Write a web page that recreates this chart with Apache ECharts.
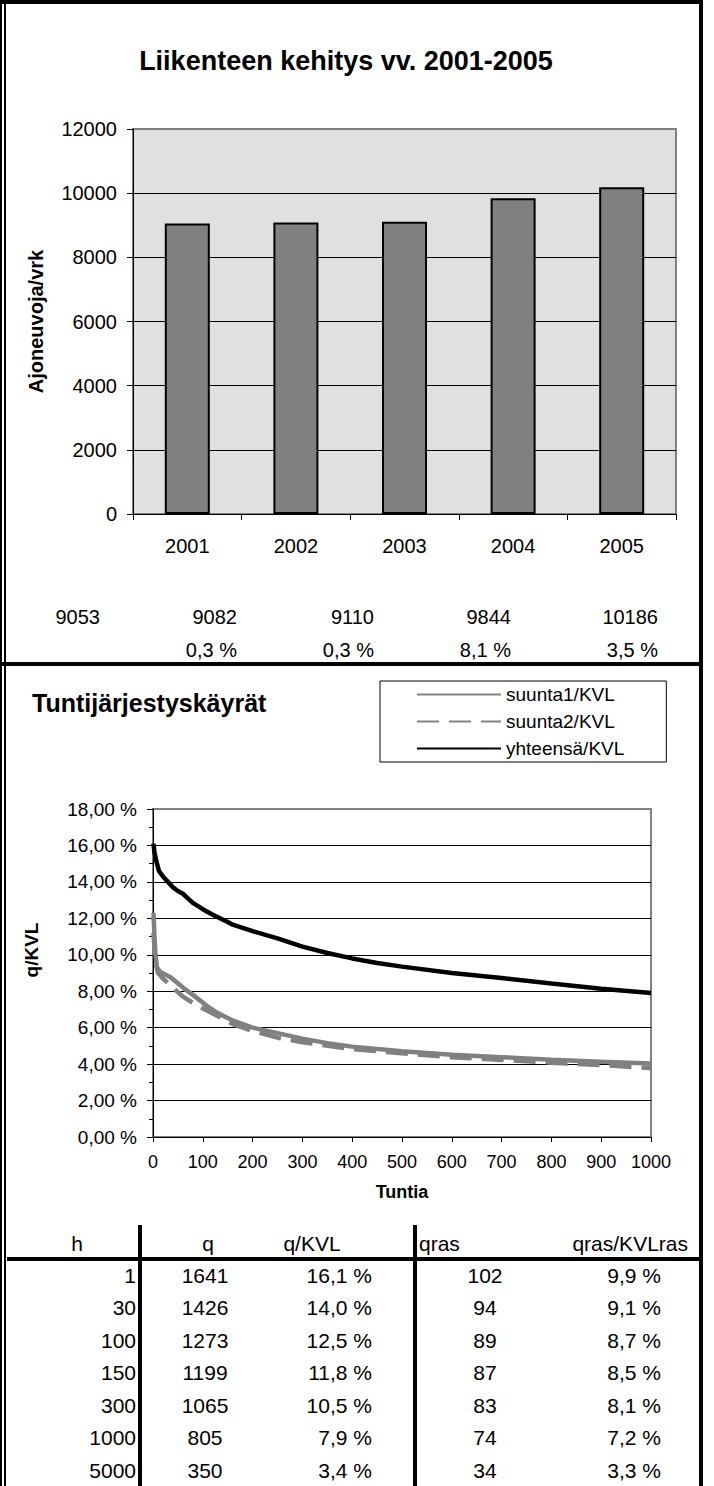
<!DOCTYPE html>
<html>
<head>
<meta charset="utf-8">
<script src="https://cdn.jsdelivr.net/npm/echarts@6/dist/echarts.min.js"></script>
<style>
html,body{margin:0;padding:0;background:#fff;}
#c{width:714px;height:1486px;}
</style>
</head>
<body>
<div id="c"></div>
<script>
// ---------- DATA ----------
const years = ['2001', '2002', '2003', '2004', '2005'];
const yearTotals = [9053, 9082, 9110, 9844, 10186];
const growthLabels = ['', '0,3 %', '0,3 %', '8,1 %', '3,5 %'];

const seriesNames = ['suunta1/KVL', 'suunta2/KVL', 'yhteensä/KVL'];
// [hour rank, % of KVL]
const suunta1 = [[1,12.3],[3,11.0],[5,10.0],[8,9.3],[15,9.05],[36,8.75],[60,8.2],[80,7.8],[108,7.2],[130,6.8],[158,6.42],[200,6.0],[250,5.7],[300,5.4],[350,5.15],[400,4.96],[500,4.7],[600,4.52],[700,4.38],[800,4.24],[900,4.13],[1000,4.03]];
const suunta2 = [[1,11.2],[3,10.3],[5,9.6],[10,9.0],[20,8.7],[40,8.2],[60,7.7],[90,7.2],[122,6.75],[160,6.2],[202,5.8],[250,5.45],[300,5.2],[400,4.82],[500,4.6],[600,4.38],[700,4.23],[800,4.08],[900,3.95],[1000,3.78]];
const yhteensa = [[1,16.1],[3,15.6],[8,15.0],[12,14.6],[20,14.3],[30,14.0],[40,13.7],[50,13.5],[60,13.35],[70,13.1],[80,12.85],[100,12.5],[120,12.2],[150,11.8],[160,11.65],[200,11.3],[250,10.9],[300,10.45],[350,10.1],[400,9.8],[450,9.55],[500,9.35],[600,9.0],[700,8.72],[800,8.42],[900,8.14],[1000,7.9]];

const tableHeaders = ['h', 'q', 'q/KVL', 'qras', 'qras/KVLras'];
const tableH = [1, 30, 100, 150, 300, 1000, 5000];
const tableQ = [1641, 1426, 1273, 1199, 1065, 805, 350];
const tableQKVL = ['16,1 %', '14,0 %', '12,5 %', '11,8 %', '10,5 %', '7,9 %', '3,4 %'];
const tableQras = [102, 94, 89, 87, 83, 74, 34];
const tableQrasKVL = ['9,9 %', '9,1 %', '8,7 %', '8,5 %', '8,1 %', '7,2 %', '3,3 %'];

// ---------- STYLE / LAYOUT ----------
const FF = '"Liberation Sans", Arial, sans-serif';
const chart = echarts.init(document.getElementById('c'), null, {renderer: 'svg'});

function txt(text, x, y, align, size, bold) {
  return {type: 'text', x: x, y: y, silent: true,
    style: {text: String(text), align: align, verticalAlign: 'middle',
      fontSize: size, fontWeight: bold ? 'bold' : 'normal', fontFamily: FF, fill: '#000'}};
}
function ln(x1, y1, x2, y2, w) {
  return {type: 'line', silent: true, shape: {x1: x1, y1: y1, x2: x2, y2: y2},
    style: {stroke: '#000', lineWidth: w}};
}

const graphics = [];
// frame
graphics.push(ln(0, 2, 703, 2, 4));
graphics.push(ln(1, 0, 1, 1486, 2));
graphics.push(ln(5, 0, 5, 1486, 2));
graphics.push(ln(701, 0, 701, 1486, 4));
graphics.push(ln(0, 664, 703, 664, 4));

// yearly totals row
const totX = [100, 237, 374, 511, 658];
yearTotals.forEach((v, i) => graphics.push(txt(v, totX[i], 617, 'right', 20, false)));
growthLabels.forEach((v, i) => { if (v) graphics.push(txt(v, totX[i], 650, 'right', 20, false)); });

// table
graphics.push(ln(140, 1225, 140, 1486, 4));
graphics.push(ln(415, 1225, 415, 1486, 4));
graphics.push(ln(7, 1259, 699, 1259, 4));
const hdrPos = [[77, 'center'], [208, 'center'], [312, 'center'], [419, 'left'], [688, 'right']];
tableHeaders.forEach((h, i) => graphics.push(txt(h, hdrPos[i][0], 1243, hdrPos[i][1], 21, false)));
const rowY0 = 1275, rowStep = 32.5;
const colDefs = [
  [tableH, 136, 'right'],
  [tableQ, 205, 'center'],
  [tableQKVL, 372, 'right'],
  [tableQras, 485, 'center'],
  [tableQrasKVL, 661, 'right']
];
colDefs.forEach(cd => {
  cd[0].forEach((v, r) => graphics.push(txt(v, cd[1], rowY0 + r * rowStep, cd[2], 21, false)));
});

const pctFmt = v => v.toFixed(2).replace('.', ',') + ' %';
const plainFmt = v => String(v);

const option = {
  backgroundColor: '#fff',
  animation: false,
  textStyle: {fontFamily: FF, color: '#000'},
  title: [
    {text: 'Liikenteen kehitys vv. 2001-2005', left: 346, top: 47, textAlign: 'center', padding: 0,
     textStyle: {fontSize: 27, fontWeight: 'bold', fontFamily: FF, color: '#000'}},
    {text: 'Tuntijärjestyskäyrät', left: 32, top: 690, padding: 0,
     textStyle: {fontSize: 25, fontWeight: 'bold', fontFamily: FF, color: '#000'}}
  ],
  legend: {
    orient: 'vertical', left: 380, top: 681,
    data: seriesNames,
    itemWidth: 84, itemHeight: 12, itemGap: 8,
    padding: [4, 42, 4, 36],
    borderColor: '#000', borderWidth: 1,
    itemStyle: {opacity: 0, borderWidth: 0},
    textStyle: {fontSize: 19, fontFamily: FF, color: '#000'}
  },
  grid: [
    {left: 133, top: 129, width: 543, height: 385, show: true, backgroundColor: '#e0e0e0',
     borderColor: '#808080', borderWidth: 2},
    {left: 153, top: 809, width: 498, height: 328, show: true, backgroundColor: '#fff',
     borderColor: '#808080', borderWidth: 2}
  ],
  xAxis: [
    {type: 'category', gridIndex: 0, data: years,
     axisLine: {lineStyle: {color: '#000', width: 1}},
     axisTick: {show: true, length: 6, lineStyle: {color: '#000'}},
     axisLabel: {fontSize: 20, color: '#000', margin: 22, fontFamily: FF},
     splitLine: {show: false}},
    {type: 'value', gridIndex: 1, min: 0, max: 1000, interval: 100,
     axisLine: {lineStyle: {color: '#000', width: 1}},
     axisTick: {show: true, length: 5, lineStyle: {color: '#000'}},
     axisLabel: {fontSize: 18, color: '#000', margin: 16, fontFamily: FF, formatter: plainFmt},
     splitLine: {show: false},
     name: 'Tuntia', nameLocation: 'middle', nameGap: 46,
     nameTextStyle: {fontSize: 18, fontWeight: 'bold', color: '#000', fontFamily: FF}}
  ],
  yAxis: [
    {type: 'value', gridIndex: 0, min: 0, max: 12000, interval: 2000,
     axisLine: {show: true, lineStyle: {color: '#000', width: 1}},
     axisTick: {show: true, length: 6, lineStyle: {color: '#000'}},
     axisLabel: {fontSize: 20, color: '#000', margin: 16, fontFamily: FF, formatter: plainFmt},
     splitLine: {show: true, showMaxLine: false, lineStyle: {color: '#000', width: 1}},
     name: 'Ajoneuvoja/vrk', nameLocation: 'middle', nameGap: 87, nameRotate: 90,
     nameTextStyle: {fontSize: 20, fontWeight: 'bold', color: '#000', fontFamily: FF}},
    {type: 'value', gridIndex: 1, min: 0, max: 18, interval: 2,
     axisLine: {show: true, lineStyle: {color: '#000', width: 1}},
     axisTick: {show: true, length: 6, lineStyle: {color: '#000'}},
     minorTick: {show: true, splitNumber: 2, length: 4, lineStyle: {color: '#000'}},
     axisLabel: {fontSize: 19, color: '#000', margin: 16, fontFamily: FF, formatter: pctFmt},
     splitLine: {show: true, showMaxLine: false, lineStyle: {color: '#000', width: 1}},
     name: 'q/KVL', nameLocation: 'middle', nameGap: 112, nameRotate: 90,
     nameTextStyle: {fontSize: 19, fontWeight: 'bold', color: '#000', fontFamily: FF, padding: [0, 0, 0, 46]}}
  ],
  series: [
    {type: 'bar', name: 'KVL', xAxisIndex: 0, yAxisIndex: 0, data: yearTotals, barWidth: 45,
     itemStyle: {color: '#808080', borderColor: '#000', borderWidth: 2}},
    {type: 'line', name: seriesNames[0], xAxisIndex: 1, yAxisIndex: 1, data: suunta1,
     symbol: 'none', lineStyle: {color: '#808080', width: 4.5}, itemStyle: {color: '#808080'}},
    {type: 'line', name: seriesNames[1], xAxisIndex: 1, yAxisIndex: 1, data: suunta2,
     symbol: 'none', lineStyle: {color: '#808080', width: 4.5, type: [22, 10]}, itemStyle: {color: '#808080'}},
    {type: 'line', name: seriesNames[2], xAxisIndex: 1, yAxisIndex: 1, data: yhteensa,
     symbol: 'none', lineStyle: {color: '#000', width: 4.5}, itemStyle: {color: '#000'}}
  ],
  graphic: graphics
};
chart.setOption(option);
</script>
</body>
</html>
